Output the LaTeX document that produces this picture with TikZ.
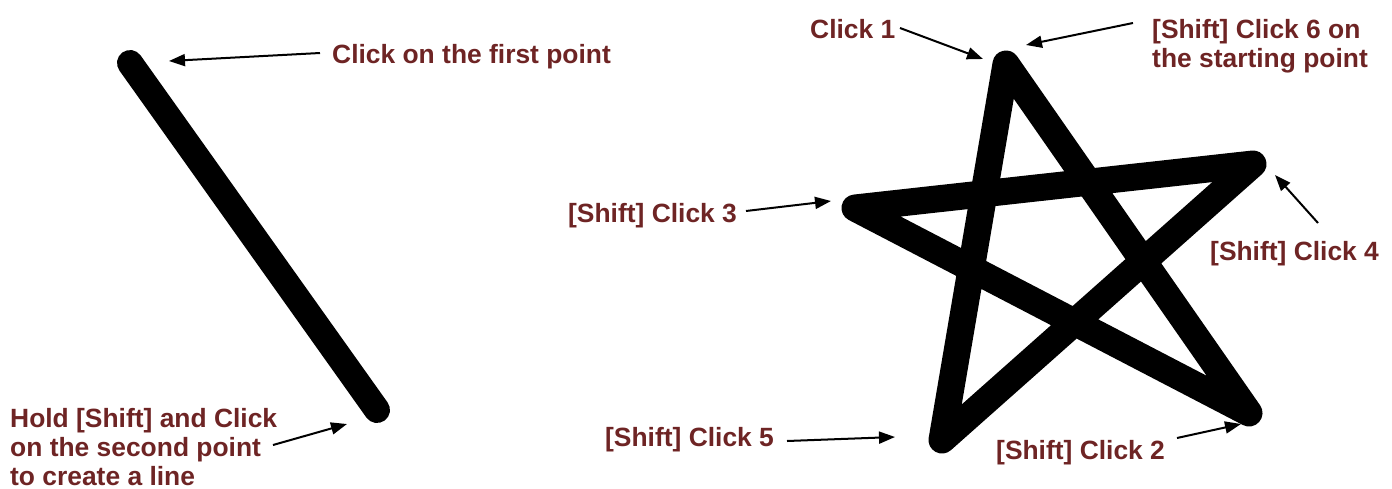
\documentclass[tikz,border=0pt]{standalone}
\usepackage{fontspec}
\setmainfont{Liberation Sans}
\usetikzlibrary{arrows.meta}
\definecolor{lbl}{RGB}{110,36,36}
\begin{document}
\begin{tikzpicture}[x=1pt,y=-1pt,
  lab/.style={font=\fontsize{26.4}{28.6}\selectfont\bfseries, text=lbl, inner sep=0pt, anchor=base west, align=left},
  thick stroke/.style={line width=26pt, line cap=round, line join=round, black},
  pointer/.style={line width=2pt, -{Triangle[length=16pt,width=12pt]}}]
\useasboundingbox (0,0) rectangle (1392,488);
% shapes
\coordinate (a) at (130,63);
\coordinate (b) at (377,410);
\draw[thick stroke] (a) -- (b);
\coordinate (s1) at (1006,64);
\coordinate (s2) at (1249,413);
\coordinate (s3) at (855,208);
\coordinate (s4) at (1253,164);
\coordinate (s5) at (942,440);
\draw[thick stroke, line width=27pt] (s1) -- (s2) -- (s3) -- (s4) -- (s5) -- cycle;
% labels
\node[lab] (t1) at (332,63) {Click on the first point};
\node[lab] (t2) at (10,485) {Hold [Shift] and Click\\on the second point\\to create a line};
\node[lab] (c1) at (810,38) {Click 1};
\node[lab] (c6) at (1152,67) {[Shift] Click 6 on\\the starting point};
\node[lab] (c3) at (568,222) {[Shift] Click 3};
\node[lab] (c4) at (1210,260) {[Shift] Click 4};
\node[lab] (c5) at (605,446) {[Shift] Click 5};
\node[lab] (c2) at (996,459) {[Shift] Click 2};
% pointer ends
\coordinate (p1a) at (320,53);  \coordinate (p1b) at (169,61);
\coordinate (p2a) at (273,445); \coordinate (p2b) at (347,424);
\coordinate (p3a) at (900,28);  \coordinate (p3b) at (983,59);
\coordinate (p4a) at (1133,23); \coordinate (p4b) at (1026,45);
\coordinate (p5a) at (746,211); \coordinate (p5b) at (831,201);
\coordinate (p6a) at (1318,223);\coordinate (p6b) at (1275,175);
\coordinate (p7a) at (787,441); \coordinate (p7b) at (895,437);
\coordinate (p8a) at (1177,438);\coordinate (p8b) at (1241,424);
\foreach \p in {p1,p2,p3,p4,p5,p6,p7,p8}
  \draw[pointer] (\p a) -- (\p b);
\end{tikzpicture}
\end{document}
